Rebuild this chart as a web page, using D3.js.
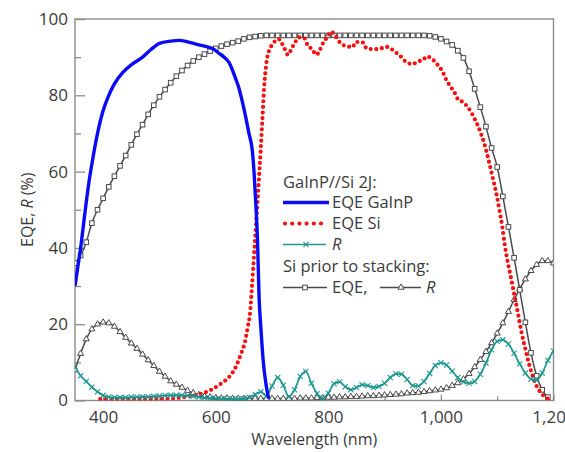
<!DOCTYPE html>
<html><head><meta charset="utf-8">
<script src="https://cdn.jsdelivr.net/npm/d3@7"></script>
<style>
html,body{margin:0;padding:0;background:#fff;overflow:hidden}
svg text{font-family:"Open Sans",sans-serif;fill:#3b3b3b}
</style></head><body>
<svg id="chart" width="565" height="452"></svg>
<script>
// ---- data -------------------------------------------------------------
// 10 nm wavelength grid shared by the sampled series (nm)
const wl10 = [350,360,370,380,390,400,410,420,430,440,450,460,470,480,490,500,510,520,530,540,
  550,560,570,580,590,600,610,620,630,640,650,660,670,680,690,700,710,720,730,740,
  750,760,770,780,790,800,810,820,830,840,850,860,870,880,890,900,910,920,930,940,
  950,960,970,980,990,1000,1010,1020,1030,1040,1050,1060,1070,1080,1090,1100,1110,1120,1130,1140,
  1150,1160,1170,1180,1190,1200];

// Si cell prior to stacking: EQE (%), 350–1190 nm
const eqeSiPrior = [36.0,38.0,41.5,46.5,50.0,53.0,56.0,58.8,61.5,64.2,67.0,69.8,72.3,75.0,77.4,79.6,81.5,83.3,85.0,86.5,
  87.8,89.0,90.0,90.8,91.6,92.3,92.9,93.4,93.8,94.2,94.8,95.2,95.4,95.6,95.7,95.7,95.7,95.7,95.7,95.7,
  95.7,95.7,95.7,95.7,95.7,95.7,95.7,95.7,95.7,95.7,95.7,95.7,95.7,95.7,95.7,95.7,95.7,95.7,95.7,95.7,
  95.7,95.7,95.7,95.6,95.3,94.8,94.1,93.2,91.7,89.8,86.3,81.7,76.9,71.8,66.2,61.2,53.5,45.5,37.4,29.0,
  20.5,12.5,6.5,2.8,0.9];

// Si cell prior to stacking: reflectance R (%), 350–1200 nm
const rSiPrior = [8.0,12.3,16.1,18.7,20.0,20.5,20.3,19.4,18.0,16.5,15.0,13.6,12.1,10.6,9.1,7.6,6.3,5.1,4.2,3.4,
  2.6,2.0,1.5,1.1,0.9,0.7,0.6,0.6,0.5,0.5,0.5,0.5,0.5,0.5,0.5,0.5,0.5,0.5,0.5,0.5,
  0.6,0.6,0.6,0.7,0.7,0.8,0.8,0.9,0.9,1.0,1.0,1.1,1.2,1.2,1.3,1.4,1.5,1.6,1.7,1.9,
  2.0,2.1,2.3,2.5,2.7,2.9,3.3,3.9,4.6,5.6,7.0,8.8,10.7,12.8,15.1,17.6,20.3,23.3,26.4,29.2,
  31.8,34.0,35.6,36.6,36.6,36.0];

// GaInP//Si 2J: reflectance R (%), 350–1200 nm
const rTandem = [8.9,6.5,5.0,3.5,2.3,1.4,0.9,0.8,0.8,0.8,0.9,0.9,1.0,1.0,1.1,1.2,1.3,1.4,1.4,1.4,
  1.3,1.1,0.9,0.7,0.6,0.5,0.4,0.4,0.4,0.4,0.5,0.8,1.6,2.3,1.2,3.8,6.0,4.0,1.0,2.8,
  6.3,7.6,4.5,1.8,0.6,1.9,4.4,4.9,3.6,2.8,3.4,4.1,3.9,3.4,3.7,4.5,6.0,7.0,6.9,5.5,
  3.9,3.8,5.0,7.1,9.2,9.9,9.3,7.7,6.0,4.9,4.5,5.0,6.9,9.8,13.3,15.5,15.9,14.8,12.4,9.6,
  7.2,5.6,5.4,7.2,10.5,13.0];

// GaInP//Si 2J: EQE of the GaInP top cell
const gainpWl  = [350,355,360,365,370,375,380,390,400,410,420,435,450,470,485,500,520,535,550,565,
  582,595,606,615,624,635,641,647,653,659,665,668,671,674,677,680,684,689,694];
const gainpEqe = [30,35,40,46,52,57.5,62,70,76,80,83,86,88,90,92,93.6,94.2,94.4,94,93.4,
  92.8,92.2,91,90,88.5,84.5,82,78.5,74.5,70,65.5,60,52,43,27,19.5,11,4.5,0.5];

// GaInP//Si 2J: EQE of the Si bottom cell
const siWl  = [395,420,450,480,510,540,556,577,593,612,624,636,644,652,657,661,664,668,672,676,
  680,683,686,690,695,700,706,712,719,725,728,735,741,748,758,763,771,779,785,791,
  799,805,813,821,831,844,847,854,862,868,877,885,894,903,912,921,930,940,950,959,
  968,975,986,994,1003,1009,1017,1025,1030,1038,1046,1054,1060,1066,1072,1077,1081,1086,1093,1099,
  1104,1109,1113,1118,1124,1130,1136,1143,1150,1157,1164,1171,1180,1186,1191];
const siEqe = [0.4,0.3,0.3,0.4,0.5,0.8,1.2,1.9,2.9,4.7,6.2,8.9,11.9,15.4,19.3,23,29,38,47,56.5,
  66,74,82,88.5,91.8,93.2,94.3,94.7,93.2,91.4,90.6,92.3,93.9,95.2,94.9,93.2,92.1,90.6,91.9,93.8,
  95.4,96.7,95.4,93.8,92.9,92.7,93.8,94,93.8,92.3,92.1,92.1,92.3,92.7,92.1,91.1,90,88.5,88.2,88.9,
  89.2,90.2,89.3,88,86.2,84.2,82.3,80.5,79,78.3,77.2,75.5,73.8,71.9,69.6,67.4,65.2,62.2,57.8,53.9,
  49.9,45.6,41.2,36.8,32.5,28,23.5,18,13.5,9.3,6,3.5,1.6,0.8,0.4];

// axis ticks
const xMajor = [400,600,800,1000,1200];
const xMinor = [500,700,900,1100];
const yMajor = [0,20,40,60,80,100];
const yMinor = [10,30,50,70,90];

// ---- layout & scales ---------------------------------------------------
const L = 75, R = 553.5, T = 19, B = 400.5;
const x = d3.scaleLinear().domain([350,1200]).range([L,R]);
const y = d3.scaleLinear().domain([0,100]).range([B,T]);

const C = {blue:"#0a0af5", red:"#f41010", teal:"#1c9690", gray:"#4a4a4a", frame:"#8c8c8c"};

const svg = d3.select("#chart");
svg.append("defs").append("clipPath").attr("id","plotClip")
  .append("rect").attr("x",L).attr("y",T-3).attr("width",R-L).attr("height",B-T+3);

// axes: ticks point inward, frame drawn separately
const fmt = d3.format(",");
const gx = svg.append("g").attr("transform",`translate(0,${B})`)
  .call(d3.axisBottom(x).tickValues(xMajor).tickSize(-6).tickPadding(10).tickFormat(fmt));
const gxm = svg.append("g").attr("transform",`translate(0,${B})`)
  .call(d3.axisBottom(x).tickValues(xMinor).tickSize(-4).tickFormat(""));
const gy = svg.append("g").attr("transform",`translate(${L},0)`)
  .call(d3.axisLeft(y).tickValues(yMajor).tickSize(-10).tickPadding(7));
const gym = svg.append("g").attr("transform",`translate(${L},0)`)
  .call(d3.axisLeft(y).tickValues(yMinor).tickSize(-6).tickFormat(""));
[gx,gxm,gy,gym].forEach(g=>{
  g.select(".domain").remove();
  g.selectAll(".tick line").attr("stroke",C.frame).attr("stroke-width",1.3);
  g.selectAll(".tick text").attr("font-size",17).attr("font-family","'Open Sans',sans-serif").attr("fill","#3b3b3b");
});

svg.append("rect").attr("x",L).attr("y",T).attr("width",R-L).attr("height",B-T)
  .attr("fill","none").attr("stroke",C.frame).attr("stroke-width",1.4);

// axis titles
svg.append("text").attr("x",(L+R)/2).attr("y",445).attr("text-anchor","middle")
  .attr("font-size",16).text("Wavelength (nm)");
const yt = svg.append("text").attr("transform",`translate(33,${(T+B)/2}) rotate(-90)`)
  .attr("text-anchor","middle").attr("font-size",16);
yt.append("tspan").text("EQE, ");
yt.append("tspan").attr("font-style","italic").text("R");
yt.append("tspan").text(" (%)");

// ---- series -------------------------------------------------------------
const plot = svg.append("g").attr("clip-path","url(#plotClip)");
const line = d3.line().x(d=>x(d[0])).y(d=>y(d[1])).curve(d3.curveMonotoneX);
const zip = (a,b)=>a.map((w,i)=>[w,b[i]]).filter(d=>d[1]!==undefined);

const eqePriorPts = zip(wl10, eqeSiPrior);
const rPriorPts   = zip(wl10, rSiPrior);
const rTandemPts  = zip(wl10, rTandem);
const gainpPts    = zip(gainpWl, gainpEqe);
const siPts       = zip(siWl, siEqe);

const triPath = d3.symbol(d3.symbolTriangle, 16)();
const crossPath = "M-2.6,-2.6L2.6,2.6M-2.6,2.6L2.6,-2.6";

// Si prior to stacking: R with open triangles
plot.append("path").datum(rPriorPts).attr("d",line)
  .attr("fill","none").attr("stroke",C.gray).attr("stroke-width",1.5);
plot.append("g").selectAll("path").data(rPriorPts).join("path")
  .attr("d",triPath).attr("transform",d=>`translate(${x(d[0])},${y(d[1])})`)
  .attr("fill","#fff").attr("stroke",C.gray).attr("stroke-width",1);

// Si prior to stacking: EQE with open squares
plot.append("path").datum(eqePriorPts).attr("d",line)
  .attr("fill","none").attr("stroke",C.gray).attr("stroke-width",1.5);
plot.append("g").selectAll("rect").data(eqePriorPts).join("rect")
  .attr("x",d=>x(d[0])-2.3).attr("y",d=>y(d[1])-2.3).attr("width",4.6).attr("height",4.6)
  .attr("fill","#fff").attr("stroke",C.gray).attr("stroke-width",1);

// tandem: EQE Si, dotted
plot.append("path").datum(siPts).attr("d",line)
  .attr("fill","none").attr("stroke",C.red).attr("stroke-width",4.2)
  .attr("stroke-linecap","round").attr("stroke-dasharray","0 5.6");

// tandem: R with crosses
plot.append("path").datum(rTandemPts).attr("d",line)
  .attr("fill","none").attr("stroke",C.teal).attr("stroke-width",1.7);
plot.append("g").selectAll("path").data(rTandemPts).join("path")
  .attr("d",crossPath).attr("transform",d=>`translate(${x(d[0])},${y(d[1])})`)
  .attr("fill","none").attr("stroke",C.teal).attr("stroke-width",1.1);

// tandem: EQE GaInP
plot.append("path").datum(gainpPts).attr("d",line)
  .attr("fill","none").attr("stroke",C.blue).attr("stroke-width",3.4)
  .attr("stroke-linejoin","round");

// ---- legend -------------------------------------------------------------
const lg = svg.append("g").attr("font-size",16.5);
const lx0 = 283, lx1 = 326, tx = 332;
lg.append("text").attr("x",lx0).attr("y",188).text("GaInP//Si 2J:");

lg.append("line").attr("x1",lx0).attr("x2",lx1+3).attr("y1",202.5).attr("y2",202.5)
  .attr("stroke",C.blue).attr("stroke-width",3.4);
lg.append("text").attr("x",tx).attr("y",208).text("EQE GaInP");

lg.append("line").attr("x1",lx0+2).attr("x2",lx1).attr("y1",223.5).attr("y2",223.5)
  .attr("stroke",C.red).attr("stroke-width",4.2).attr("stroke-linecap","round").attr("stroke-dasharray","0 7.2");
lg.append("text").attr("x",tx).attr("y",229).text("EQE Si");

lg.append("line").attr("x1",lx0).attr("x2",lx1).attr("y1",244.5).attr("y2",244.5)
  .attr("stroke",C.teal).attr("stroke-width",1.7);
lg.append("path").attr("d",crossPath).attr("transform","translate(306,244.5)")
  .attr("fill","none").attr("stroke",C.teal).attr("stroke-width",1.1);
lg.append("text").attr("x",tx).attr("y",250).attr("font-style","italic").text("R");

lg.append("text").attr("x",lx0).attr("y",272).text("Si prior to stacking:");

lg.append("line").attr("x1",lx0).attr("x2",lx1+1).attr("y1",287.5).attr("y2",287.5)
  .attr("stroke",C.gray).attr("stroke-width",1.5);
lg.append("rect").attr("x",302.7).attr("y",285.2).attr("width",4.6).attr("height",4.6)
  .attr("fill","#fff").attr("stroke",C.gray).attr("stroke-width",1);
lg.append("text").attr("x",tx).attr("y",293).text("EQE,");

lg.append("line").attr("x1",380).attr("x2",421).attr("y1",287.5).attr("y2",287.5)
  .attr("stroke",C.gray).attr("stroke-width",1.5);
lg.append("path").attr("d",triPath).attr("transform","translate(401,287.5)")
  .attr("fill","#fff").attr("stroke",C.gray).attr("stroke-width",1);
lg.append("text").attr("x",426).attr("y",293).attr("font-style","italic").text("R");
</script>
</body></html>
